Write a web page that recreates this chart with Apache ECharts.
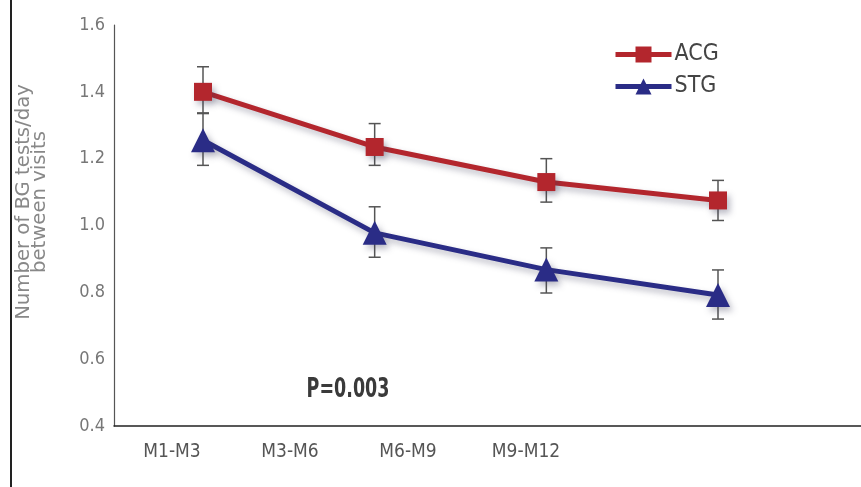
<!DOCTYPE html>
<html>
<head>
<meta charset="utf-8">
<script src="https://cdn.jsdelivr.net/npm/echarts@6/dist/echarts.min.js"></script>
<style>
  html, body { margin: 0; padding: 0; background: #fff; }
  #chart { width: 861px; height: 487px; }
</style>
</head>
<body>
<div id="chart"></div>
<script>
// data
const categories = ["M1-M3", "M3-M6", "M6-M9", "M9-M12"];
const acgMean = [1.40, 1.235, 1.13, 1.075];
const acgLow = [1.335, 1.18, 1.07, 1.015];
const acgHigh = [1.475, 1.305, 1.20, 1.135];
const stgMean = [1.255, 0.978, 0.868, 0.792];
const stgLow = [1.18, 0.905, 0.798, 0.72];
const stgHigh = [1.337, 1.056, 0.933, 0.867];
const yTicks = [0.4, 0.6, 0.8, 1.0, 1.2, 1.4, 1.6];

const font = "'DejaVu Sans Condensed', 'Liberation Sans Narrow', sans-serif";
const redColor = "#b3262d";
const blueColor = "#2a2c86";
const shadow = { shadowColor: "rgba(60,60,90,0.35)", shadowBlur: 6, shadowOffsetX: 3, shadowOffsetY: 4 };

function errorBars(low, high) {
  return low.map((v, i) => [i, v, high[i]]);
}

function renderErr(params, api) {
  const x = api.value(0);
  const lo = api.coord([x, api.value(1)]);
  const hi = api.coord([x, api.value(2)]);
  const cap = 6;
  const style = { stroke: "#555", lineWidth: 1.5 };
  return {
    type: "group",
    children: [
      { type: "line", shape: { x1: lo[0], y1: lo[1], x2: hi[0], y2: hi[1] }, style: style },
      { type: "line", shape: { x1: lo[0] - cap, y1: lo[1], x2: lo[0] + cap, y2: lo[1] }, style: style },
      { type: "line", shape: { x1: hi[0] - cap, y1: hi[1], x2: hi[0] + cap, y2: hi[1] }, style: style }
    ]
  };
}

const chart = echarts.init(document.getElementById("chart"));
const option = {
  backgroundColor: "#fff",
  animation: false,
  grid: [
    // data grid, points centred on the plotted positions
    { left: 203, right: 143, top: 25, bottom: 61 },
    // frame with the axis lines
    { left: 114, right: 0, top: 25, bottom: 61 },
    // category labels, spaced as in the picture
    { left: 113, width: 472, top: 25, bottom: 61 }
  ],
  legend: {
    left: 608,
    top: 38,
    orient: "vertical",
    itemGap: 9,
    itemWidth: 56,
    itemHeight: 20,
    data: [
      { name: "ACG", lineStyle: { width: 5 } },
      { name: "STG", lineStyle: { width: 5 } }
    ],
    textStyle: { fontFamily: font, fontSize: 23, color: "#444", padding: [0, 0, 0, -2] }
  },
  xAxis: [
    {
      type: "category", gridIndex: 0, data: categories, boundaryGap: false,
      axisLine: { show: false }, axisTick: { show: false }, axisLabel: { show: false }, splitLine: { show: false }
    },
    {
      type: "category", gridIndex: 1, data: categories,
      axisLine: { show: true, lineStyle: { color: "#222", width: 1.5 } },
      axisTick: { show: false }, axisLabel: { show: false }, splitLine: { show: false }
    },
    {
      type: "category", gridIndex: 2, data: categories,
      axisLine: { show: false }, axisTick: { show: false }, splitLine: { show: false },
      axisLabel: { fontFamily: font, fontSize: 19, color: "#555", margin: 17 }
    }
  ],
  yAxis: [
    {
      type: "value", gridIndex: 0, min: 0.4, max: 1.6, interval: 0.2,
      axisLine: { show: false }, axisTick: { show: false }, axisLabel: { show: false }, splitLine: { show: false }
    },
    {
      type: "value", gridIndex: 1, min: 0.4, max: 1.6, interval: 0.2,
      axisLine: { show: true, lineStyle: { color: "#555", width: 1.2 } },
      axisTick: { show: false }, splitLine: { show: false },
      axisLabel: {
        fontFamily: font, fontSize: 18, color: "#777", margin: 9,
        formatter: v => yTicks.includes(+v.toFixed(1)) ? v.toFixed(1) : ""
      }
    },
    {
      type: "value", gridIndex: 2, min: 0.4, max: 1.6, show: false
    }
  ],
  graphic: [
    {
      type: "text", rotation: Math.PI / 2,
      x: 32, y: 202, scaleX: 1.15,
      style: {
        text: "Number of BG tests/day\nbetween visits",
        fontFamily: font, fontSize: 19, lineHeight: 16, fill: "#888",
        align: "center", verticalAlign: "middle"
      }
    },
    {
      type: "text", x: 348, y: 390, scaleX: 0.72,
      style: {
        text: "P=0.003", fontFamily: font, fontSize: 27, fontWeight: "bold", fill: "#3a3a3a",
        align: "center", verticalAlign: "middle"
      }
    },
    {
      type: "rect", shape: { x: 10, y: 0, width: 2, height: 487 }, style: { fill: "#222" }
    }
  ],
  series: [
    {
      name: "ACG", type: "line", xAxisIndex: 0, yAxisIndex: 0, data: acgMean,
      symbol: "rect", symbolSize: 18, z: 4,
      lineStyle: Object.assign({ color: redColor, width: 5 }, shadow),
      itemStyle: Object.assign({ color: redColor }, shadow)
    },
    {
      name: "STG", type: "line", xAxisIndex: 0, yAxisIndex: 0, data: stgMean,
      symbol: "triangle", symbolSize: 24, z: 4,
      lineStyle: Object.assign({ color: blueColor, width: 5 }, shadow),
      itemStyle: Object.assign({ color: blueColor }, shadow)
    },
    {
      type: "custom", xAxisIndex: 0, yAxisIndex: 0, z: 3,
      data: errorBars(acgLow, acgHigh), renderItem: renderErr
    },
    {
      type: "custom", xAxisIndex: 0, yAxisIndex: 0, z: 3,
      data: errorBars(stgLow, stgHigh), renderItem: renderErr
    }
  ]
};
chart.setOption(option);
</script>
</body>
</html>
